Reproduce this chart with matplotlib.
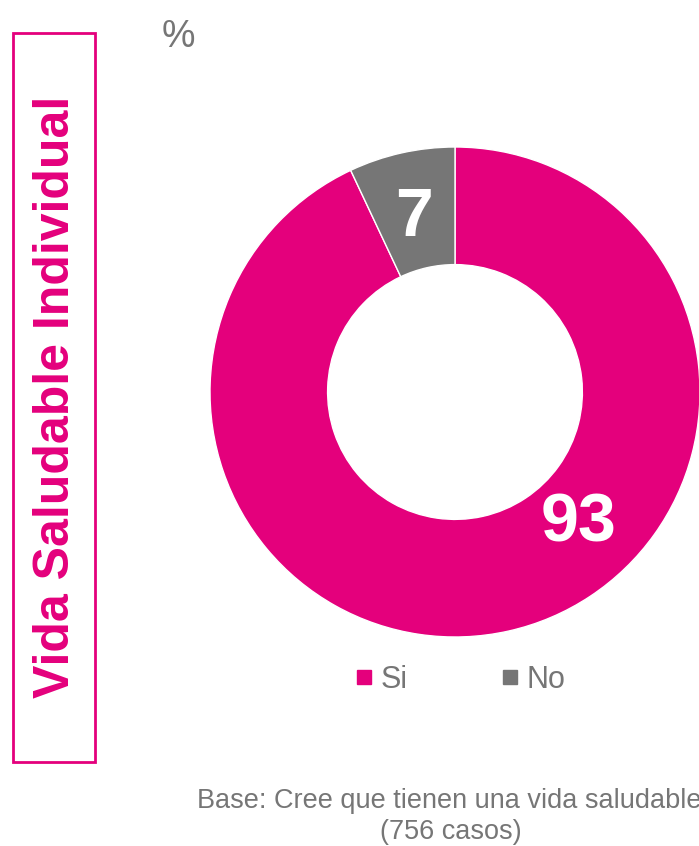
import numpy as np
import matplotlib.pyplot as plt
from matplotlib.patches import Rectangle
from matplotlib.lines import Line2D

plt.rcParams['font.family'] = ['Liberation Sans', 'DejaVu Sans']

labels = ['Si', 'No']
values = [93, 7]
colors = ['#E4007C', '#767676']
gray = '#767676'
pink = '#E4007C'

fig = plt.figure(figsize=(6.99, 8.46), dpi=100)

# donut axes: centre (455, 392) px, radius 245 px
W, H = 699, 846
cx, cy, r = 455, 392, 245
ax = fig.add_axes([(cx - r) / W, (H - cy - r) / H, 2 * r / W, 2 * r / H])
wedges, _ = ax.pie(values, colors=colors, startangle=90, counterclock=False,
                   radius=1, wedgeprops=dict(width=0.48, edgecolor='white', linewidth=1))
ax.set_xlim(-1, 1)
ax.set_ylim(-1, 1)
ax.set_aspect('equal')
ax.axis('off')

# value labels
ang_no = np.deg2rad(90 + values[1] / 100 * 360 / 2)
ax.text(0.76 * np.cos(ang_no), 0.76 * np.sin(ang_no) - 0.03, str(values[1]),
        ha='center', va='center', color='white', fontsize=49, fontweight='bold')
ang_si = np.deg2rad(-45.7)
ax.text(0.72 * np.cos(ang_si), 0.72 * np.sin(ang_si) - 0.02, str(values[0]),
        ha='center', va='center', color='white', fontsize=49, fontweight='bold')

# percent sign
fig.text(178 / W, 1 - 37 / H, '%', ha='center', va='center', color=gray, fontsize=27)

# side title box
fig.patches.append(Rectangle((13 / W, 1 - 762 / H), 82 / W, 729 / H, transform=fig.transFigure,
                             fill=False, edgecolor=pink, linewidth=2))
fig.text(56 / W, 1 - 397 / H, 'Vida Saludable Individual', rotation=90, ha='center', va='center',
         color=pink, fontsize=36, fontweight='bold')

# legend
handles = [Line2D([], [], marker='s', linestyle='none', markersize=10, color=c) for c in colors]
fig.legend(handles, labels, loc='center', bbox_to_anchor=(461 / W, 1 - 680 / H), ncol=2,
           frameon=False, fontsize=22, labelcolor=gray, handlelength=0.5, handletextpad=0.3,
           columnspacing=3.1)

# base note (cut at the right edge, as in the original)
fig.text(449 / W, 1 - 801 / H, 'Base: Cree que tienen una vida saludable', ha='center', va='center',
         color=gray, fontsize=19.5)
fig.text(451 / W, 1 - 832 / H, '(756 casos)', ha='center', va='center', color=gray, fontsize=19.5)

fig.savefig('out.png', dpi=100, facecolor='white')
